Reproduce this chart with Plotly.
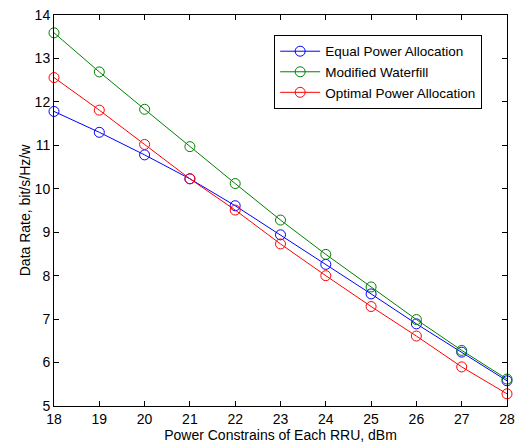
import plotly.graph_objects as go

power_dbm = [18, 19, 20, 21, 22, 23, 24, 25, 26, 27, 28]
equal_power = [11.78, 11.30, 10.78, 10.23, 9.61, 8.94, 8.26, 7.58, 6.89, 6.24, 5.58]
modified_waterfill = [13.59, 12.69, 11.83, 10.97, 10.12, 9.28, 8.49, 7.74, 6.99, 6.28, 5.62]
optimal_power = [12.56, 11.81, 11.02, 10.23, 9.51, 8.73, 8.00, 7.29, 6.61, 5.90, 5.28]

series = [
    ("Equal Power Allocation", equal_power, "#0000ff"),
    ("Modified Waterfill", modified_waterfill, "#008000"),
    ("Optimal Power Allocation", optimal_power, "#ff0000"),
]

fig = go.Figure()
for name, vals, col in series:
    fig.add_trace(go.Scatter(
        x=power_dbm, y=vals, name=name, mode="lines+markers",
        line=dict(color=col, width=1),
        marker=dict(symbol="circle-open", size=10, color=col, line=dict(width=1, color=col)),
        cliponaxis=False,
    ))

axis_common = dict(
    showline=True, linecolor="black", linewidth=1, mirror="ticks",
    ticks="inside", ticklen=5, tickcolor="black", showgrid=False, zeroline=False,
    automargin=False,
    tickfont=dict(family="Liberation Sans, Arial", size=14, color="black"),
)

fig.update_layout(
    width=520, height=445,
    margin=dict(l=54, r=13, t=15, b=39),
    plot_bgcolor="white", paper_bgcolor="white",
    font=dict(family="Liberation Sans, Arial", size=14, color="black"),
    xaxis=dict(range=[18, 28], tickvals=power_dbm, ticklabelstandoff=0,
               title=dict(text="Power Constrains of Each RRU, dBm", standoff=0, font=dict(size=14)), **axis_common),
    yaxis=dict(range=[5, 14], dtick=1, ticklabelstandoff=0,
               title=dict(text="Data Rate, bit/s/Hz/w", standoff=0, font=dict(size=14)), **axis_common),
    legend=dict(x=0.486, y=0.949, xanchor="left", yanchor="top",
                bordercolor="black", borderwidth=1, bgcolor="white",
                font=dict(size=13.5), tracegroupgap=0, itemwidth=40),
    showlegend=True,
)

fig.write_html("out.html")
